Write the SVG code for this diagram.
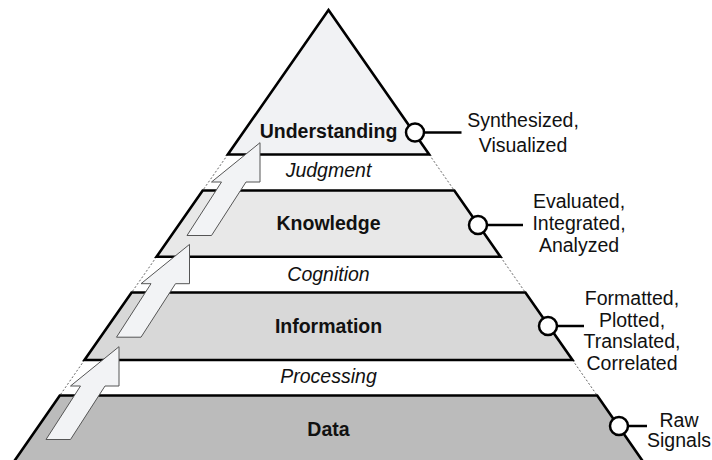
<svg xmlns="http://www.w3.org/2000/svg" width="712" height="460" viewBox="0 0 712 460">
  <style>
    .band { stroke: #000; stroke-width: 2.6; stroke-linejoin: miter; }
    .gap { fill: none; stroke: #666; stroke-width: 1; stroke-dasharray: 2 2; }
    .title { font-family: "Liberation Sans", Arial, sans-serif; font-size: 19.5px; font-weight: bold; fill: #111; text-anchor: middle; }
    .step { font-family: "Liberation Sans", Arial, sans-serif; font-size: 19.5px; font-style: italic; fill: #111; text-anchor: middle; }
    .note { font-family: "Liberation Sans", Arial, sans-serif; font-size: 19.5px; fill: #111; text-anchor: middle; }
    .pin { fill: #fff; stroke: #000; stroke-width: 2.5; }
    .lead { stroke: #000; stroke-width: 2.5; fill: none; }
    .climb { fill: #f2f3f5; stroke: #555; stroke-width: 1; stroke-linejoin: miter; }
  </style>
  <defs>
    <path id="climb-arrow" d="M119,346.7 L119,386 L105,386 L70.5,439.5 L46,439.5 L80.5,386 L70.5,386 Z"/>
  </defs>
  <rect width="712" height="460" fill="#fff"/>

  <!-- dotted pyramid edges across the open transition bands -->
  <g id="edges">
    <line class="gap" x1="227.8" y1="154.5" x2="202.7" y2="190.5"/>
    <line class="gap" x1="429.2" y1="154.5" x2="454.3" y2="190.5"/>
    <line class="gap" x1="156.5" y1="256.8" x2="131.6" y2="292.5"/>
    <line class="gap" x1="500.5" y1="256.8" x2="525.4" y2="292.5"/>
    <line class="gap" x1="84.5" y1="360" x2="59.8" y2="395.5"/>
    <line class="gap" x1="572.5" y1="360" x2="597.2" y2="395.5"/>
  </g>

  <g id="understanding">
    <polygon class="band" fill="#f1f2f4" points="328.5,10 429.2,154.5 227.8,154.5"/>
    <text class="title" x="328.5" y="138.3">Understanding</text>
  </g>
  <g id="judgment">
    <text class="step" x="328.5" y="176.7">Judgment</text>
  </g>
  <g id="knowledge">
    <polygon class="band" fill="#e8e8e8" points="202.7,190.5 454.3,190.5 500.5,256.8 156.5,256.8"/>
    <text class="title" x="328.5" y="230">Knowledge</text>
  </g>
  <g id="cognition">
    <text class="step" x="328.5" y="281">Cognition</text>
  </g>
  <g id="information">
    <polygon class="band" fill="#d8d8d8" points="131.6,292.5 525.4,292.5 572.5,360 84.5,360"/>
    <text class="title" x="328.5" y="332.7">Information</text>
  </g>
  <g id="processing">
    <text class="step" x="328.5" y="382.7">Processing</text>
  </g>
  <g id="data">
    <polygon class="band" fill="#bbbbbb" points="59.8,395.5 597.2,395.5 643,461.5 14,461.5"/>
    <text class="title" x="328.5" y="436">Data</text>
  </g>

  <!-- upward progression arrows along the left face -->
  <g id="arrows">
    <use href="#climb-arrow" class="climb"/>
    <use href="#climb-arrow" class="climb" transform="translate(70.5,-102.3)"/>
    <use href="#climb-arrow" class="climb" transform="translate(141,-204)"/>
  </g>

  <!-- callouts from the right face -->
  <g id="connectors">
    <line class="lead" x1="424" y1="132.5" x2="461.5" y2="132.5"/>
    <line class="lead" x1="487" y1="225" x2="523" y2="225"/>
    <line class="lead" x1="557" y1="326" x2="584" y2="326"/>
    <line class="lead" x1="628" y1="426" x2="647" y2="426"/>
    <circle class="pin" cx="415" cy="132.5" r="9"/>
    <circle class="pin" cx="478" cy="225" r="9"/>
    <circle class="pin" cx="548" cy="326" r="9"/>
    <circle class="pin" cx="619" cy="426" r="9"/>
  </g>

  <g id="label-understanding">
    <text class="note" x="523" y="127.3">Synthesized,</text>
    <text class="note" x="523" y="151.7">Visualized</text>
  </g>
  <g id="label-knowledge">
    <text class="note" x="579" y="208.3">Evaluated,</text>
    <text class="note" x="579" y="230.3">Integrated,</text>
    <text class="note" x="579" y="252.3">Analyzed</text>
  </g>
  <g id="label-information">
    <text class="note" x="632" y="305">Formatted,</text>
    <text class="note" x="632" y="326.7">Plotted,</text>
    <text class="note" x="632" y="348.3">Translated,</text>
    <text class="note" x="632" y="369.5">Correlated</text>
  </g>
  <g id="label-data">
    <text class="note" x="679" y="426.7">Raw</text>
    <text class="note" x="679" y="446.7">Signals</text>
  </g>
</svg>
